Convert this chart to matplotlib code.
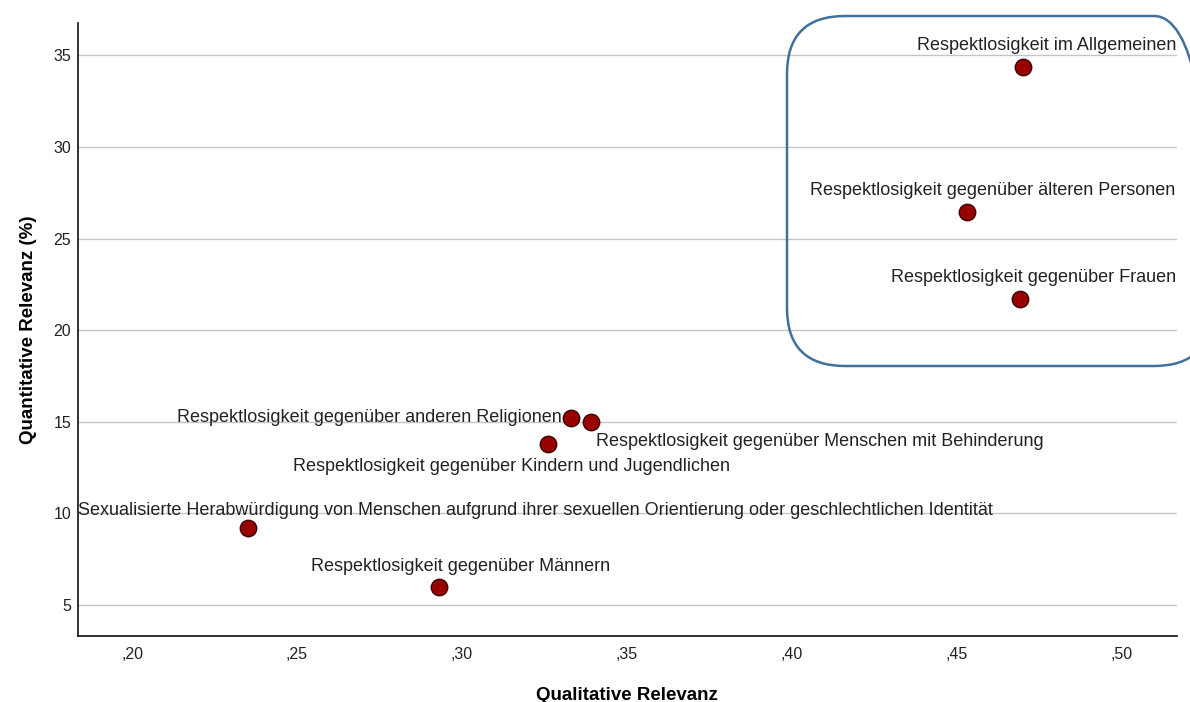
import matplotlib
matplotlib.use("Agg")
import matplotlib.pyplot as plt
from matplotlib.patches import FancyBboxPatch
from matplotlib.transforms import IdentityTransform

# data
labels = [
    "Respektlosigkeit im Allgemeinen",
    "Respektlosigkeit gegenüber älteren Personen",
    "Respektlosigkeit gegenüber Frauen",
    "Respektlosigkeit gegenüber anderen Religionen",
    "Respektlosigkeit gegenüber Menschen mit Behinderung",
    "Respektlosigkeit gegenüber Kindern und Jugendlichen",
    "Sexualisierte Herabwürdigung von Menschen aufgrund ihrer sexuellen Orientierung oder geschlechtlichen Identität",
    "Respektlosigkeit gegenüber Männern",
]
qualitative = [0.470, 0.453, 0.469, 0.333, 0.339, 0.326, 0.235, 0.293]
quantitative = [34.35, 26.43, 21.68, 15.22, 14.98, 13.81, 9.23, 5.97]

x_ticks = [0.20, 0.25, 0.30, 0.35, 0.40, 0.45, 0.50]
x_ticklabels = [",20", ",25", ",30", ",35", ",40", ",45", ",50"]
y_ticks = [5, 10, 15, 20, 25, 30, 35]

# label placement: (dx, dy in pixels, ha, va)
label_pos = [
    (154, 22, "right", "center"),
    (208, 22, "right", "center"),
    (157, 22, "right", "center"),
    (-9, 0, "right", "center"),
    (5, -19, "left", "center"),
    (-36, -23, "center", "center"),
    (-170, 17, "left", "center"),
    (22, 21, "center", "center"),
]

plt.rcParams["font.family"] = ["Liberation Sans", "DejaVu Sans"]

fig = plt.figure(figsize=(11.9, 7.02), dpi=100)
ax = fig.add_axes([0.0655, 0.094, 0.9235, 0.873])

ax.grid(axis="y", color="#c4c4c4", linewidth=1.0, zorder=0)
ax.scatter(qualitative, quantitative, s=140, color="#990000",
           edgecolor="#3a0000", linewidth=1.0, zorder=3)

for lab, xv, yv, (dx, dy, ha, va) in zip(labels, qualitative, quantitative, label_pos):
    ax.annotate(lab, (xv, yv), xytext=(dx, dy), textcoords="offset pixels",
                ha=ha, va=va, fontsize=13, color="#222222", zorder=4)

ax.set_xlim(0.1836, 0.5167)
ax.set_ylim(3.31, 36.76)
ax.set_xticks(x_ticks)
ax.set_xticklabels(x_ticklabels)
ax.set_yticks(y_ticks)
ax.tick_params(length=0, labelsize=11.5, colors="#222222")
ax.tick_params(axis="x", pad=8)
ax.tick_params(axis="y", pad=5)

for side in ["top", "right"]:
    ax.spines[side].set_visible(False)
for side in ["left", "bottom"]:
    ax.spines[side].set_linewidth(1.2)
    ax.spines[side].set_color("#111111")

ax.set_xlabel("Qualitative Relevanz", fontsize=13.5, fontweight="bold", labelpad=18)
ax.set_ylabel("Quantitative Relevanz (%)", fontsize=13.5, fontweight="bold", labelpad=12)

# rounded highlight box (pixel coordinates)
box = FancyBboxPatch((787, 702 - 366), 425, 350,
                     boxstyle="round,pad=0,rounding_size=58",
                     transform=IdentityTransform(), facecolor="none",
                     edgecolor="#41709e", linewidth=1.8, clip_on=False)
fig.add_artist(box)

fig.savefig("out.png", dpi=100)
